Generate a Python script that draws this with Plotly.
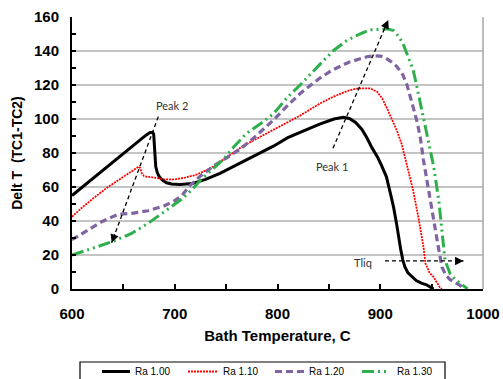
import plotly.graph_objects as go

# ---------------- data ----------------
x_ra100 = [600, 610, 620, 630, 640, 650, 660, 667, 672, 676, 678.5, 679.5, 680, 680.5, 681.5, 683, 685, 688, 692, 697, 705, 717,
           730, 744, 763, 780, 796, 810, 825, 841, 855, 864, 870, 876, 882, 887, 892, 897, 901, 906, 910, 913, 916, 918,
           920, 922, 924, 927, 931, 935, 940, 945, 949, 952]
y_ra100 = [55, 60, 65, 70, 75, 80, 84.5, 88, 90.5, 92, 92, 91, 86, 78, 72, 68.5, 66, 64, 62.5, 61.8, 61.5, 62,
           64.5, 68, 74, 79, 84, 89, 93, 97, 100, 101, 100.3, 98, 94, 89, 83, 78, 73, 66, 56, 48, 38, 30,
           23, 17, 13, 9.5, 7, 5, 3.5, 2.5, 1, 0]

x_ra110 = [600, 609, 620, 635, 645, 655, 662, 665, 666.5, 668, 670, 673, 678, 690, 700, 710, 720, 735, 747,
           766, 780, 796, 810, 822, 841, 854, 868, 876, 882, 890, 897, 902, 906, 911, 916, 921, 926, 932,
           937, 942, 944, 948, 952, 956, 958, 960]
y_ra110 = [42.5, 47.5, 53, 60, 64, 68, 71, 72, 71, 68, 66.5, 66, 65.7, 64.5, 64.5, 65.5, 67, 71, 76,
           84, 88.5, 93.5, 98, 102, 109, 113, 116.5, 117.8, 118, 118, 116, 112, 107, 100, 93.5, 85, 72, 58,
           42.5, 25, 15, 9.5, 7, 3, 1, 0]

x_ra120 = [600, 613, 629, 645, 658, 674, 690, 700, 707, 715, 725, 737, 750, 763, 780, 796, 810, 822,
           841, 854, 870, 887, 895, 900, 905, 910, 916, 922, 926, 929, 932, 936, 939, 942, 947, 952, 957, 960, 964, 968,
           973, 978, 981]
y_ra120 = [29, 33.7, 39.6, 44, 44.5, 46, 49, 52, 55, 61, 66.5, 72, 77, 82, 90.5, 99.4, 108, 115,
           124, 129, 133.5, 136.6, 137.2, 137, 136, 134, 131, 126, 120, 114, 107, 98, 89, 76, 58, 38.6, 23, 13, 8, 5.5,
           3.5, 2, 0]

x_ra130 = [600, 619, 639, 658, 674, 690, 707, 716, 725, 736, 747, 758, 770, 783, 796, 810, 822, 841,
           854, 867, 880, 890, 900, 907, 913, 918, 922, 927, 932, 936, 940, 944, 947, 952, 957, 960,
           963, 968, 973, 978, 982, 985]
y_ra130 = [20, 24, 27.8, 32.7, 38.6, 45.5, 53, 58, 64, 70, 76, 84, 91.6, 97, 103, 113, 120, 132,
           140, 146, 150, 152.5, 153, 153, 152, 148.5, 144.5, 137, 129, 118, 107, 96, 87.6, 72, 52, 33,
           17, 9, 5.5, 3.4, 1.5, 0]

series_names = ["Ra 1.00", "Ra 1.10", "Ra 1.20", "Ra 1.30"]

x_ticks = [600, 700, 800, 900, 1000]
y_ticks = [0, 20, 40, 60, 80, 100, 120, 140, 160]

# annotation arrows: (start, end) in data units
peak2_arrow = ((684, 101.4), (638.6, 27.2))
peak1_arrow = ((854, 82.8), (907.8, 158.2))
tliq_arrow = ((904.6, 16.5), (981, 16.5))

# ---------------- figure ----------------
W, H = 503, 379
ML, MR, MT, MB = 72, 20, 17, 90
PW, PH = W - ML - MR, H - MT - MB


def px_x(px):
    return (px - ML) / PW


def px_y(py):
    return (H - MB - py) / PH


fig = go.Figure()

styles = [
    dict(color="#000000", width=3, dash="solid"),
    dict(color="#FF0000", width=1.8, dash="2px,1px"),
    dict(color="#8064A2", width=3.2, dash="7px,4px"),
    dict(color="#2DB04B", width=3, dash="12px,4px,2px,4px,2px,4px"),
]
xs = [x_ra100, x_ra110, x_ra120, x_ra130]
ys = [y_ra100, y_ra110, y_ra120, y_ra130]
for name, x, y, st in zip(series_names, xs, ys, styles):
    fig.add_trace(go.Scatter(x=x, y=y, mode="lines", name=name, line=dict(**st), showlegend=False))

txt_font = dict(family="Lato, Liberation Sans, sans-serif", size=11, color="#333333")

for (s, e) in [peak2_arrow, peak1_arrow, tliq_arrow]:
    fig.add_shape(type="line", x0=s[0], y0=s[1], x1=e[0], y1=e[1], xref="x", yref="y",
                  line=dict(color="black", width=1.3, dash="4px,3px"))
    bx = e[0] - (e[0] - s[0]) * 0.08
    by = e[1] - (e[1] - s[1]) * 0.08
    fig.add_annotation(x=e[0], y=e[1], ax=bx, ay=by, axref="x", ayref="y", xref="x", yref="y",
                       text="", showarrow=True, arrowhead=2, arrowsize=1.4, arrowwidth=1.2,
                       arrowcolor="black")

fig.add_annotation(x=697, y=108, text="Peak 2", showarrow=False, font=txt_font)
fig.add_annotation(x=852.7, y=72, text="Peak 1", showarrow=False, font=txt_font)
fig.add_annotation(x=883.5, y=15.5, text="Tliq", showarrow=False, font=txt_font)

# right border of plot area
fig.add_shape(type="line", xref="paper", yref="paper", x0=1, x1=1, y0=0, y1=1,
              line=dict(color="#A6A6A6", width=1.5))

# ---------------- legend (drawn manually, box cut by page bottom) ----------------
fig.add_shape(type="rect", xref="paper", yref="paper", x0=px_x(80), x1=px_x(445),
              y0=px_y(395), y1=px_y(362), line=dict(color="black", width=1.2), fillcolor="white",
              layer="above")
leg_line_x = [(102, 130), (188, 217), (275, 305), (362, 390)]
leg_text_x = [133, 221, 307, 395]
leg_y = 371.5
for name, st, (a, b), tx in zip(series_names, styles, leg_line_x, leg_text_x):
    fig.add_shape(type="line", xref="paper", yref="paper", x0=px_x(a), x1=px_x(b),
                  y0=px_y(leg_y), y1=px_y(leg_y), line=dict(**st), layer="above")
    fig.add_annotation(xref="paper", yref="paper", x=px_x(tx), y=px_y(leg_y), text=name,
                       showarrow=False, xanchor="left", yanchor="middle",
                       font=dict(family="Arial, Liberation Sans, sans-serif", size=10, color="black"))

axis_font = dict(family="Arial, Liberation Sans, sans-serif", size=15, color="black", weight="bold")

fig.update_layout(
    width=W, height=H,
    margin=dict(l=ML, r=MR, t=MT, b=MB, autoexpand=False),
    plot_bgcolor="white", paper_bgcolor="white",
    font=dict(family="Arial, Liberation Sans, sans-serif", color="black"),
    showlegend=False,
    xaxis=dict(range=[600, 1000], tickvals=x_ticks, ticktext=[str(v) for v in x_ticks],
               showgrid=False, zeroline=False, showline=True, linecolor="black", linewidth=2,
               ticks="inside", ticklen=5, tickwidth=1.5, tickcolor="black",
               minor=dict(dtick=50, tick0=600, ticks="inside", ticklen=5, tickwidth=1.5, tickcolor="black", showgrid=False),
               tickfont=axis_font, ticklabelstandoff=10, automargin=False,
               title=dict(text="Bath Temperature, C", font=axis_font, standoff=9)),
    yaxis=dict(range=[0, 160], tickvals=y_ticks, ticktext=[str(v) for v in y_ticks],
               showgrid=True, gridcolor="#C4C4C4", gridwidth=1.5, zeroline=False,
               showline=True, linecolor="black", linewidth=2,
               ticks="inside", ticklen=4, tickwidth=1.5, tickcolor="black",
               minor=dict(dtick=10, tick0=0, ticks="inside", ticklen=4, tickwidth=1.5, tickcolor="black", showgrid=False),
               tickfont=axis_font, ticklabelstandoff=8, automargin=False,
               title=dict(text="Delt T\u00a0\u00a0(TC1-TC2)", font=dict(family="Arial, Liberation Sans, sans-serif", size=14, color="black", weight="bold"), standoff=8)),
)

fig.write_html("out.html")
